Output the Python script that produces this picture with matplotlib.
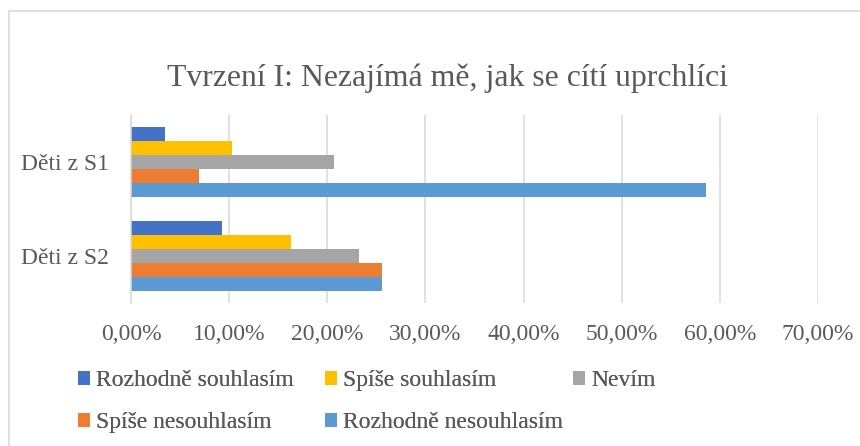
import matplotlib
matplotlib.use("Agg")
import matplotlib.pyplot as plt
from matplotlib.patches import Patch
from matplotlib.ticker import FuncFormatter, MultipleLocator
from matplotlib.lines import Line2D
import numpy as np

plt.rcParams['font.family'] = ['Liberation Serif', 'DejaVu Serif']

title = "Tvrzení I: Nezajímá mě, jak se cítí uprchlíci"
categories = ["Děti z S1", "Děti z S2"]
series_names = ["Rozhodně souhlasím", "Spíše souhlasím", "Nevím",
                "Spíše nesouhlasím", "Rozhodně nesouhlasím"]
colors = ["#4472C4", "#FFC000", "#A5A5A5", "#ED7D31", "#5B9BD5"]
# values in percent, per series: [S1, S2]
rozhodne_souhlasim = [3.45, 9.30]
spise_souhlasim = [10.34, 16.28]
nevim = [20.69, 23.26]
spise_nesouhlasim = [6.90, 25.58]
rozhodne_nesouhlasim = [58.62, 25.58]
values = [rozhodne_souhlasim, spise_souhlasim, nevim,
          spise_nesouhlasim, rozhodne_nesouhlasim]

text_color = "#595959"
grid_color = "#D9D9D9"

fig = plt.figure(figsize=(8.6, 4.46), dpi=100)
W, H = 860, 446

# chart border (Excel chart area)
fig.add_artist(Line2D([9 / W, 9 / W], [0, 1 - 11 / H], color=grid_color, lw=1.2))
fig.add_artist(Line2D([9 / W, 1], [1 - 11 / H, 1 - 11 / H], color=grid_color, lw=1.2))

ax_l, ax_r, ax_t, ax_b = 131, 818, 115, 303
ax = fig.add_axes([ax_l / W, 1 - ax_b / H, (ax_r - ax_l) / W, (ax_b - ax_t) / H])

pos = np.arange(len(categories))
h = 0.148
for i, (name, vals, c) in enumerate(zip(series_names, values, colors)):
    ax.barh(pos + (i - 2) * h, vals, height=h, color=c, label=name,
            edgecolor='none', zorder=3)

ax.set_xlim(0, 70)
ax.set_ylim(1.5, -0.5)
ax.xaxis.set_major_locator(MultipleLocator(10))
ax.xaxis.set_major_formatter(FuncFormatter(lambda v, p: f"{v:.2f}".replace(".", ",") + "%"))
ax.set_yticks(pos)
ax.set_yticklabels(categories)
ax.grid(axis='x', color=grid_color, lw=1.1, zorder=0)
for s in ['top', 'right', 'bottom']:
    ax.spines[s].set_visible(False)
ax.spines['left'].set_color(grid_color)
ax.spines['left'].set_linewidth(1.1)
ax.spines['left'].set_zorder(4)
ax.tick_params(axis='both', length=0, labelsize=17, labelcolor=text_color)
ax.tick_params(axis='x', pad=15)
ax.tick_params(axis='y', pad=16)

fig.text(447.5 / W, 1 - 86 / H, title, ha='center', va='baseline',
         fontsize=22.9, color=text_color)

handles = [Patch(facecolor=c, edgecolor='none') for c in colors]
# Excel-style legend: fixed-width columns, rows filled left to right
columns = [[0, 3], [1, 4], [2]]
col_x = [78, 325, 573]
for cx, idx in zip(col_x, columns):
    lg = fig.legend([handles[k] for k in idx], [series_names[k] for k in idx],
                    ncol=1, loc='upper left', bbox_to_anchor=(cx / W, 1 - 370 / H),
                    frameon=False, fontsize=17, handlelength=0.52, handleheight=0.52,
                    handletextpad=0.25, labelspacing=0.91,
                    borderpad=0, borderaxespad=0, labelcolor=text_color)
    fig.add_artist(lg)

fig.savefig("out.png", dpi=100)
